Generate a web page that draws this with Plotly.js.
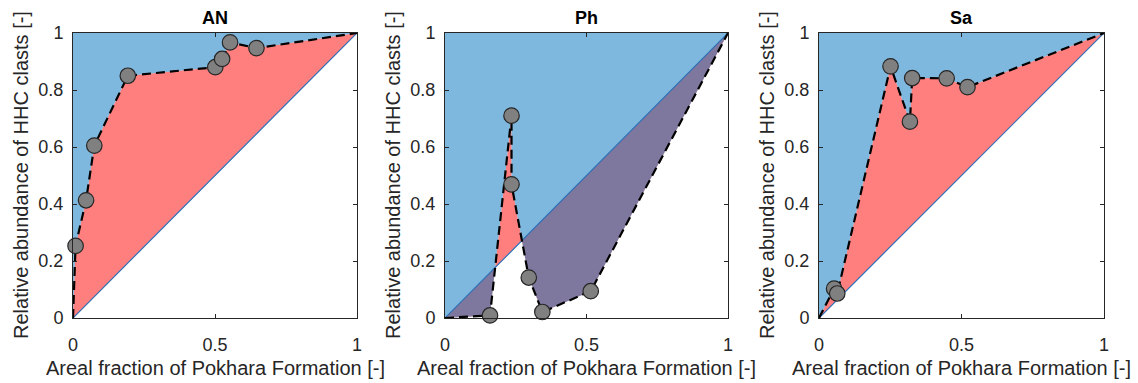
<!DOCTYPE html>
<html>
<head>
<meta charset="utf-8">
<script src="https://cdn.plot.ly/plotly-3.0.1.min.js"></script>
<style>html,body{margin:0;padding:0;background:#fff;}#chart{width:1138px;height:383px;}</style>
</head>
<body>
<div id="chart"></div>
<script>
// ---- data ----
var panelNames = ["AN", "Ph", "Sa"];

var anX = [0.009, 0.046, 0.075, 0.193, 0.501, 0.525, 0.553, 0.646];
var anY = [0.253, 0.413, 0.605, 0.850, 0.880, 0.909, 0.967, 0.947];

var phX = [0.159, 0.235, 0.235, 0.296, 0.344, 0.515];
var phY = [0.009, 0.710, 0.469, 0.142, 0.021, 0.094];

var saX = [0.053, 0.064, 0.251, 0.319, 0.327, 0.448, 0.521];
var saY = [0.103, 0.086, 0.883, 0.689, 0.842, 0.841, 0.810];

var xTickVals = [0, 0.5, 1];
var xTickText = ["0", "0.5", "1"];
var yTickVals = [0, 0.2, 0.4, 0.6, 0.8, 1];
var yTickText = ["0", "0.2", "0.4", "0.6", "0.8", "1"];

var xTitle = "Areal fraction of Pokhara Formation [-]";
var yTitle = "Relative abundance of HHC clasts [-]";

// ---- layout geometry ----
var W = 1138, H = 383;
var xDomainsPx = [[73, 357], [445, 728], [819, 1104]];
var yTopPx = 33, yBotPx = 318;
var yDomain = [1 - yBotPx / H, 1 - yTopPx / H];
var FONT = "Liberation Sans, Arial, sans-serif";

var series = [[anX, anY], [phX, phY], [saX, saY]];

var traces = [];
var layout = {
  width: W, height: H,
  margin: {l: 0, r: 0, t: 0, b: 0, pad: 0},
  paper_bgcolor: "#ffffff",
  plot_bgcolor: "rgba(0,0,0,0)",
  showlegend: false,
  font: {family: FONT, color: "#262626"},
  annotations: []
};

series.forEach(function (s, i) {
  var n = i === 0 ? "" : String(i + 1);
  var xa = "x" + n, ya = "y" + n;
  var xs = s[0], ys = s[1];
  var px = [0].concat(xs, [1]);
  var py = [0].concat(ys, [1]);

  // red: between curve and the 1:1 line
  traces.push({
    x: px.concat([0]), y: py.concat([0]), xaxis: xa, yaxis: ya,
    type: "scatter", mode: "lines", fill: "toself",
    fillcolor: "rgba(255,0,0,0.5)", line: {width: 0}, hoverinfo: "skip"
  });
  // blue: above the curve
  traces.push({
    x: px.concat([0, 0]), y: py.concat([1, 0]), xaxis: xa, yaxis: ya,
    type: "scatter", mode: "lines", fill: "toself",
    fillcolor: "rgba(0,114,189,0.5)", line: {width: 0}, hoverinfo: "skip"
  });
  // 1:1 line
  traces.push({
    x: [0, 1], y: [0, 1], xaxis: xa, yaxis: ya,
    type: "scatter", mode: "lines",
    line: {color: "#2f6fb5", width: 1.2}, hoverinfo: "skip"
  });
  // dashed curve
  traces.push({
    x: px, y: py, xaxis: xa, yaxis: ya,
    type: "scatter", mode: "lines",
    line: {color: "#000000", width: 2.2, dash: "9px,5px"}, hoverinfo: "skip"
  });
  // markers
  traces.push({
    x: xs, y: ys, xaxis: xa, yaxis: ya,
    type: "scatter", mode: "markers", cliponaxis: false,
    marker: {size: 15.5, color: "#808080", line: {color: "#262626", width: 1.2}}
  });

  var d = xDomainsPx[i];
  var axCommon = {
    range: [0, 1], showgrid: false, zeroline: false,
    showline: true, linecolor: "#262626", linewidth: 1, mirror: "ticks",
    ticks: "inside", ticklen: 4, tickwidth: 1, tickcolor: "#262626",
    tickfont: {family: FONT, size: 18, color: "#262626"},
    fixedrange: true
  };
  layout["xaxis" + n] = Object.assign({}, axCommon, {
    domain: [d[0] / W, d[1] / W], anchor: ya,
    tickmode: "array", tickvals: xTickVals, ticktext: xTickText,
    ticklabelstandoff: 10
  });
  layout["yaxis" + n] = Object.assign({}, axCommon, {
    domain: yDomain, anchor: xa,
    tickmode: "array", tickvals: yTickVals, ticktext: yTickText,
    ticklabelstandoff: 5
  });

  var cx = (d[0] + d[1]) / 2;
  // panel title
  layout.annotations.push({
    text: "<b>" + panelNames[i] + "</b>", xref: "paper", yref: "paper",
    x: cx / W, y: 1 - 18 / H, xanchor: "center", yanchor: "middle",
    showarrow: false, font: {size: 18, color: "#000000", family: FONT}
  });
  // x title
  layout.annotations.push({
    text: xTitle, xref: "paper", yref: "paper",
    x: cx / W, y: 1 - 368 / H, xanchor: "center", yanchor: "middle",
    showarrow: false, font: {size: 20, color: "#262626", family: FONT}
  });
  // y title
  layout.annotations.push({
    text: yTitle, xref: "paper", yref: "paper", textangle: -90,
    x: (d[0] - 52.5) / W, y: (yDomain[0] + yDomain[1]) / 2, xanchor: "center", yanchor: "middle",
    showarrow: false, font: {size: 20, color: "#262626", family: FONT}
  });
});

Plotly.newPlot("chart", traces, layout, {displayModeBar: false, staticPlot: true});
</script>
</body>
</html>
